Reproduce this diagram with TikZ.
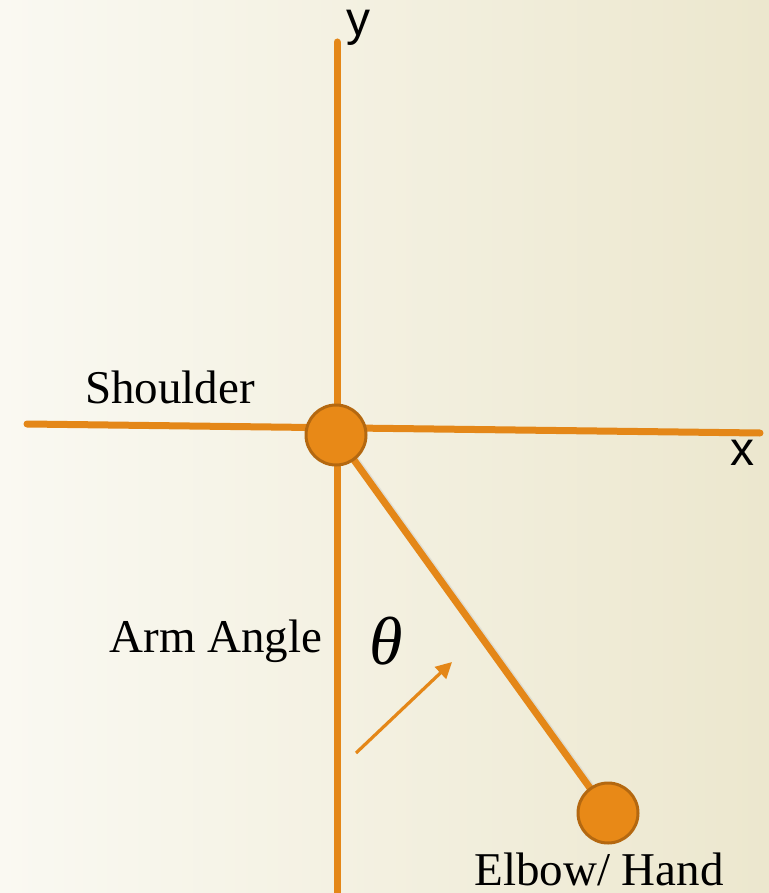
\documentclass[tikz,border=0pt]{standalone}
\usepackage{fontspec}
\setmainfont{Liberation Serif}
\newfontfamily\axisfont{Liberation Sans}
\usetikzlibrary{arrows.meta,positioning,backgrounds}
\definecolor{armOrange}{RGB}{228,135,24}
\definecolor{jointFill}{RGB}{232,137,23}
\definecolor{jointRim}{RGB}{180,104,16}
\definecolor{bgLeft}{RGB}{250,249,242}
\definecolor{bgRight}{RGB}{236,231,206}
\tikzset{
  axis line/.style={line width=3.5pt,draw=armOrange,line cap=round},
  arm shadow/.style={line width=3.5pt,draw=black!25,opacity=0.35,line cap=round},
  joint/.style={circle,draw=jointRim,fill=jointFill,line width=1.5pt,minimum size=30pt,inner sep=0pt},
  label text/.style={font=\fontsize{23.5}{28}\selectfont,text=black,inner sep=0pt,anchor=base},
  axis text/.style={font=\axisfont\fontsize{24}{28}\selectfont,text=black,inner sep=0pt,anchor=base},
  angle arrow/.style={-{Triangle[length=8pt,width=8pt]},line width=1.6pt,draw=armOrange}
}
\begin{document}
\begin{tikzpicture}[x=0.5pt,y=-0.5pt]
        \useasboundingbox (0,0) rectangle (769,893);
        % joints
        \node[joint] (shoulder) at (336,435) {};
        \node[joint] (elbow) at (608,813) {};
        % axis ends and angle arrow ends
        \coordinate (yTop) at (337,42);
        \coordinate (yBottom) at (337,893);
        \coordinate (xLeft) at (27,424);
        \coordinate (xRight) at (760,433);
        \coordinate (angleTail) at (356,753);
        \coordinate (angleHead) at (452,662);
        % labels
        \node[label text] (shoulderLabel) at (170,403) {Shoulder};
        \node[label text] (angleLabel) at (216,652) {Arm Angle};
        \node[label text,font=\itshape\fontsize{34}{40}\selectfont] (theta) at (386,664) {θ};
        \node[label text] (elbowLabel) at (599,885) {Elbow/ Hand};
        \node[axis text] (yLabel) at (358,36) {y};
        \node[axis text] (xLabel) at (742,465) {x};
        \begin{scope}[on background layer]
          \shade[left color=bgLeft,right color=bgRight] (0,0) rectangle (769,893);
          \draw[axis line] (yTop) -- (yBottom);
          \draw[axis line] (xLeft) -- (xRight);
          \draw[arm shadow] ([shift={(4,3)}]shoulder.center) -- ([shift={(4,3)}]elbow.center);
          \draw[axis line] (shoulder.center) -- (elbow.center);
        \end{scope}
        \draw[angle arrow] (angleTail) -- (angleHead);
      \end{tikzpicture}
\end{document}
